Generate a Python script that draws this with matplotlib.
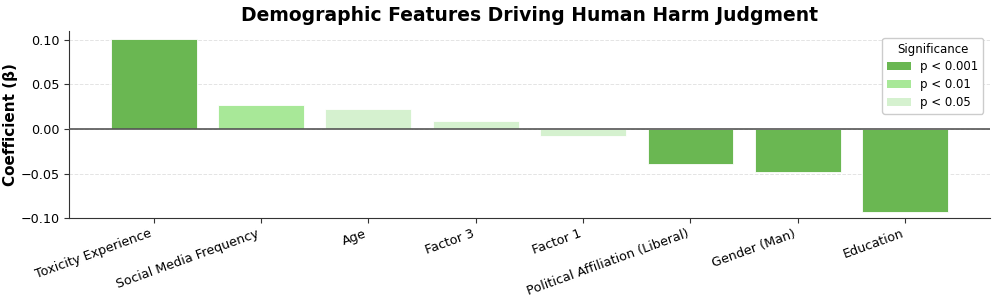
import numpy as np
import matplotlib
matplotlib.use('Agg')
import matplotlib.pyplot as plt
from matplotlib.patches import Patch

features = ["Toxicity Experience", "Social Media Frequency", "Age", "Factor 3",
            "Factor 1", "Political Affiliation (Liberal)", "Gender (Man)", "Education"]
coefs = [0.101, 0.0266, 0.0226, 0.0092, -0.0079, -0.0395, -0.0486, -0.0927]
sig = ["p < 0.001", "p < 0.01", "p < 0.05", "p < 0.05",
       "p < 0.05", "p < 0.001", "p < 0.001", "p < 0.001"]
sig_levels = ["p < 0.001", "p < 0.01", "p < 0.05"]
sig_colors = {"p < 0.001": "#6ab752", "p < 0.01": "#a8e898", "p < 0.05": "#d5f1cf"}

plt.rcParams['font.family'] = ['DejaVu Sans']

fig, ax = plt.subplots(figsize=(9.97, 3.0), dpi=100)
x = np.arange(len(features))
ax.bar(x, coefs, width=0.8, color=[sig_colors[s] for s in sig],
       edgecolor='white', linewidth=0.6, zorder=3)
ax.axhline(0, color='#555555', linewidth=1.2, zorder=4)

ax.set_xticks(x)
ax.set_xticklabels(features, rotation=20, ha='right', fontsize=9.2)
ax.set_xlim(-0.79, 7.79)
ax.set_ylim(-0.1, 0.11)
ax.set_yticks([-0.10, -0.05, 0.00, 0.05, 0.10])
ax.set_yticklabels(["\u22120.10", "\u22120.05", "0.00", "0.05", "0.10"], fontsize=9.2)
ax.tick_params(axis='both', length=3.5, color='#333333', pad=3)
ax.yaxis.grid(True, linestyle='--', color='#e4e4e4', linewidth=0.7, zorder=0)
ax.set_axisbelow(True)
for s in ['top', 'right']:
    ax.spines[s].set_visible(False)
for s in ['left', 'bottom']:
    ax.spines[s].set_color('#333333')

ax.set_ylabel("Coefficient (\u03b2)", fontsize=11, fontweight='bold', labelpad=2)
ax.set_title("Demographic Features Driving Human Harm Judgment",
             fontsize=13.5, fontweight='bold', pad=7)

handles = [Patch(facecolor=sig_colors[s], label=s) for s in sig_levels]
ax.legend(handles=handles, title="Significance", loc='upper right',
          fontsize=8.5, title_fontsize=8.5, framealpha=1, edgecolor='#cccccc',
          borderaxespad=0.6, labelspacing=0.4)

fig.subplots_adjust(left=0.069, right=0.993, top=0.897, bottom=0.273)
fig.savefig('out.png', dpi=100)
